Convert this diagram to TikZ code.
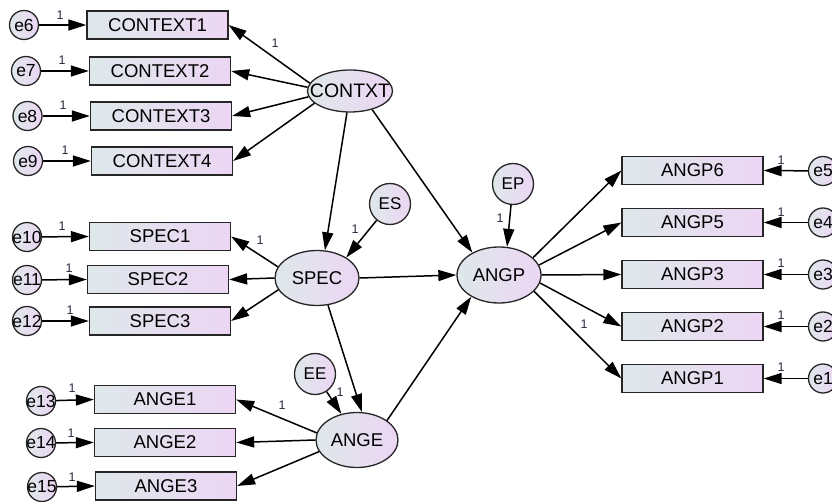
\documentclass[tikz,border=0pt]{standalone}
\usepackage{fontspec}
\setmainfont{Liberation Sans}
\usetikzlibrary{arrows.meta,shapes.geometric}
\definecolor{fillL}{RGB}{222,232,234}
\definecolor{fillR}{RGB}{236,214,244}
\definecolor{lab}{RGB}{40,40,60}
\newcommand\zw[1]{\makebox[0pt]{#1}}
\tikzset{
  obsbox/.style={draw=black!85,line width=1.3pt,minimum width=141pt,minimum height=28pt,inner sep=0pt,
    left color=fillL,right color=fillR,font=\fontsize{18.5}{21}\selectfont},
  latent/.style={ellipse,draw=black!85,line width=1.3pt,minimum width=84pt,minimum height=55pt,inner sep=0pt,
    left color=fillL,right color=fillR,font=\fontsize{18.5}{21}\selectfont},
  errc/.style={circle,draw=black!85,line width=1.3pt,minimum size=29pt,inner sep=0pt,
    left color=fillL,right color=fillR,font=\fontsize{17.5}{20}\selectfont},
  distc/.style={circle,draw=black!85,line width=1.3pt,minimum size=41pt,inner sep=0pt,
    left color=fillL,right color=fillR,font=\fontsize{17}{20}\selectfont},
  path/.style={draw=black,line width=1.5pt,-{Triangle[length=18pt,width=11pt]}},
  one/.style={text=lab,font=\fontsize{12.5}{13}\selectfont,inner sep=0pt}
}
\begin{document}
\begin{tikzpicture}[x=1pt,y=-1pt]
\path[use as bounding box] (0,0) rectangle (832,502);
\clip (0,0) rectangle (832,502);
% indicators
\node[obsbox] (C1) at (157.5,25) {CONTEXT1};
\node[obsbox] (C2) at (160,71) {CONTEXT2};
\node[obsbox] (C3) at (161,116) {CONTEXT3};
\node[obsbox] (C4) at (162,161) {CONTEXT4};
\node[obsbox] (S1) at (160,236.5) {SPEC1};
\node[obsbox] (S2) at (158,279.5) {SPEC2};
\node[obsbox] (S3) at (160,321) {SPEC3};
\node[obsbox] (A1) at (165,399.5) {ANGE1};
\node[obsbox] (A2) at (165,442.5) {ANGE2};
\node[obsbox] (A3) at (166,486) {ANGE3};
\node[obsbox] (P6) at (692.5,170.5) {ANGP6};
\node[obsbox] (P5) at (692.5,222.5) {ANGP5};
\node[obsbox] (P3) at (692.5,274.5) {ANGP3};
\node[obsbox] (P2) at (692.5,326.5) {ANGP2};
\node[obsbox] (P1) at (692.5,378.5) {ANGP1};
% errors
\node[errc] (e6) at (24,25) {\zw{e6}};
\node[errc] (e7) at (26,71) {\zw{e7}};
\node[errc] (e8) at (27.5,116) {\zw{e8}};
\node[errc] (e9) at (28,161) {\zw{e9}};
\node[errc] (e10) at (27,237) {\zw{e10}};
\node[errc] (e11) at (27,280) {\zw{e11}};
\node[errc] (e12) at (27,321) {\zw{e12}};
\node[errc] (e13) at (41,401) {\zw{e13}};
\node[errc] (e14) at (41,443) {\zw{e14}};
\node[errc] (e15) at (42,487) {\zw{e15}};
\node[errc] (e5) at (823,171) {\zw{e5}};
\node[errc] (e4) at (823,222.5) {\zw{e4}};
\node[errc] (e3) at (823,274.5) {\zw{e3}};
\node[errc] (e2) at (823,326.5) {\zw{e2}};
\node[errc] (e1) at (823,378.5) {\zw{e1}};
% latents
\node[latent,minimum width=85pt,minimum height=42pt,font=\fontsize{19.5}{22}\selectfont] (CONTXT) at (350,91) {\zw{CONTXT}};
\node[latent] (SPEC) at (317,278) {SPEC};
\node[latent,minimum width=82pt] (ANGE) at (357,440) {ANGE};
\node[latent,minimum height=56pt] (ANGP) at (499,275) {ANGP};
\node[distc] (ES) at (390,204) {ES};
\node[distc] (EE) at (315,374) {EE};
\node[distc] (EP) at (513,184) {EP};
% error paths
\foreach \e/\b in {e6/C1,e7/C2,e8/C3,e9/C4,e10/S1,e11/S2,e12/S3,e13/A1,e14/A2,e15/A3}
  \draw[path] (\e) -- (\b.west);
\foreach \e/\b in {e5/P6,e4/P5,e3/P3,e2/P2,e1/P1}
  \draw[path] (\e) -- (\b.east);
% loadings
\draw[path] (CONTXT.169) -- (C1.east);
\draw[path] (CONTXT.175) -- (C2.east);
\draw[path] (CONTXT.188) -- (C3.east);
\draw[path] (CONTXT.199) -- (C4.east);
\draw[path] (SPEC.164) -- (S1.east);
\draw[path] (SPEC.west) -- (S2.east);
\draw[path] (SPEC.197) -- (S3.east);
\draw[path] (ANGE.170) -- (A1.east);
\draw[path] (ANGE.west) -- (A2.east);
\draw[path] (ANGE.197) -- (A3.east);
\draw[path] (ANGP.27) -- (P6.west);
\draw[path] (ANGP.14) -- (P5.west);
\draw[path] (ANGP.east) -- (P3.west);
\draw[path] (ANGP.-11) -- (P2.west);
\draw[path] (ANGP.-25) -- (P1.west);
% structural
\draw[path] (CONTXT.262) -- (SPEC.74);
\draw[path] (CONTXT.-40) -- (ANGP.140);
\draw[path] (SPEC.east) -- (ANGP.west);
\draw[path] (SPEC.-68) -- (ANGE.80);
\draw[path] (ANGE.33) -- (ANGP.218);
\draw[path] (ES) -- (SPEC.35);
\draw[path] (EE) -- (ANGE.121);
\draw[path] (EP) -- (ANGP.74);
% labels
\node[one] (l6) at (60,15) {1};
\node[one] (l7) at (62,60) {1};
\node[one] (l8) at (63,105) {1};
\node[one] (l9) at (65,150) {1};
\node[one] (lc1) at (275,43) {1};
\node[one] (l10) at (62,226) {1};
\node[one] (l11) at (69,268) {1};
\node[one] (l12) at (70,310) {1};
\node[one] (ls1) at (260,240) {1};
\node[one] (les) at (355,229) {1};
\node[one] (l13) at (72,388) {1};
\node[one] (l14) at (71,433) {1};
\node[one] (l15) at (72,477) {1};
\node[one] (la1) at (282,405) {1};
\node[one] (lee) at (340,392) {1};
\node[one] (lep) at (500,218) {1};
\node[one] (lp2) at (584,324) {1};
\node[one] (l5) at (781,160) {1};
\node[one] (l4) at (781,212) {1};
\node[one] (l3) at (781,263) {1};
\node[one] (l2) at (781,315) {1};
\node[one] (l1) at (781,367) {1};
\end{tikzpicture}
\end{document}
